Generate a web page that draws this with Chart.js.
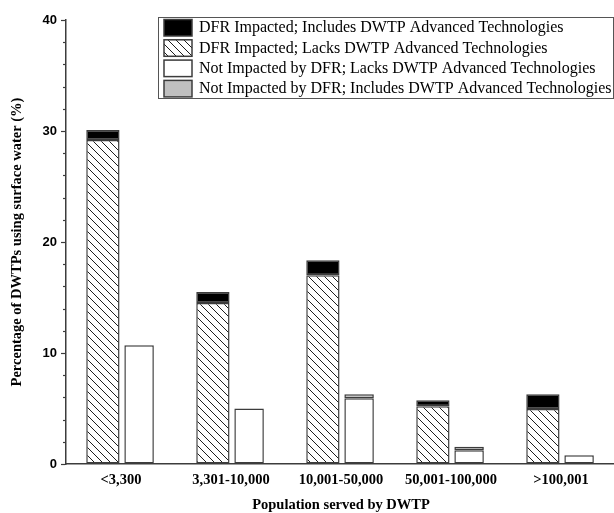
<!DOCTYPE html>
<html>
<head>
<meta charset="utf-8">
<script src="https://cdn.jsdelivr.net/npm/chart.js@4/dist/chart.umd.min.js"></script>
<style>
  html, body { margin: 0; padding: 0; background: #fff; overflow: hidden; }
  #wrap { width: 620px; height: 513px; position: relative; }
</style>
</head>
<body>
<div id="wrap"><canvas id="c" width="620" height="513"></canvas></div>
<script>
// Population size classes of drinking water treatment plants
const categories = ['<3,300', '3,301-10,000', '10,001-50,000', '50,001-100,000', '>100,001'];

// Percentage of DWTPs using surface water, per group
const dfrLacksAdvanced     = [29.2, 14.5, 17.0, 5.2, 4.95];
const dfrIncludesAdvanced  = [0.9, 1.0, 1.35, 0.55, 1.33];
const notDfrLacksAdvanced  = [10.7, 5.0, 5.92, 1.25, 0.78];
const notDfrIncludesAdvanced = [0.0, 0.0, 0.36, 0.3, 0.0];

const yTickMax = 40;
const yTickStep = 2;
const yLabelStep = 10;

const SERIF = '"Liberation Serif", "Times New Roman", serif';
const SANS = '"Liberation Sans", Arial, sans-serif';
const EDGE = '#3c3c3c';

// diagonal hatch fill
function makeHatch() {
  const t = document.createElement('canvas');
  t.width = 8; t.height = 8;
  const g = t.getContext('2d');
  g.fillStyle = '#fff';
  g.fillRect(0, 0, 8, 8);
  g.strokeStyle = '#1e1e1e';
  g.lineWidth = 1;
  g.beginPath();
  g.moveTo(-1, -1); g.lineTo(9, 9);
  g.moveTo(-1, 7); g.lineTo(1, 9);
  g.moveTo(7, -1); g.lineTo(9, 1);
  g.stroke();
  return document.getElementById('c').getContext('2d').createPattern(t, 'repeat');
}
const hatch = makeHatch();

const datasets = [
  { label: 'DFR Impacted; Lacks DWTP Advanced Technologies', data: dfrLacksAdvanced,
    backgroundColor: hatch, stack: 'dfr', barPercentage: 0.92 },
  { label: 'DFR Impacted; Includes DWTP Advanced Technologies', data: dfrIncludesAdvanced,
    backgroundColor: '#000000', stack: 'dfr', barPercentage: 0.92 },
  { label: 'Not Impacted by DFR; Lacks DWTP Advanced Technologies', data: notDfrLacksAdvanced,
    backgroundColor: '#ffffff', stack: 'not', barPercentage: 0.815 },
  { label: 'Not Impacted by DFR; Includes DWTP Advanced Technologies', data: notDfrIncludesAdvanced,
    backgroundColor: '#c0c0c0', stack: 'not', barPercentage: 0.815 }
].map(d => Object.assign(d, {
  borderColor: EDGE, borderWidth: 1.5, borderSkipped: false, categoryPercentage: 0.658
}));

// legend box listing the series (order as shown in the box)
const legendOrder = [1, 0, 2, 3];
const boxLegend = {
  id: 'boxLegend',
  afterDraw(chart) {
    const ctx = chart.ctx;
    const x0 = 158.5, y0 = 17.5, w = 455, h = 81;
    ctx.save();
    ctx.fillStyle = '#fff';
    ctx.fillRect(x0, y0, w, h);
    ctx.strokeStyle = '#555';
    ctx.lineWidth = 1;
    ctx.strokeRect(x0, y0, w, h);
    ctx.font = '16px ' + SERIF;
    ctx.textBaseline = 'middle';
    ctx.textAlign = 'left';
    legendOrder.forEach((di, row) => {
      const ds = chart.data.datasets[di];
      const sy = 19.5 + row * 20.3;
      ctx.fillStyle = ds.backgroundColor;
      ctx.fillRect(164, sy, 28, 16.5);
      ctx.strokeStyle = EDGE;
      ctx.lineWidth = 1.5;
      ctx.strokeRect(164, sy, 28, 16.5);
      ctx.fillStyle = '#000';
      ctx.fillText(ds.label, 199, sy + 8.5);
    });
    ctx.restore();
  }
};

// short minor ticks on the value axis
const minorTicks = {
  id: 'minorTicks',
  afterDraw(chart) {
    const y = chart.scales.y;
    const ctx = chart.ctx;
    ctx.save();
    ctx.strokeStyle = EDGE;
    ctx.lineWidth = 1.2;
    y.ticks.forEach(t => {
      if (t.value % yLabelStep === 0) return;
      const py = Math.round(y.getPixelForValue(t.value)) + 0.5;
      ctx.beginPath();
      ctx.moveTo(y.right - 3, py);
      ctx.lineTo(y.right, py);
      ctx.stroke();
    });
    ctx.restore();
  }
};

new Chart(document.getElementById('c'), {
  type: 'bar',
  data: { labels: categories, datasets },
  plugins: [minorTicks, boxLegend],
  options: {
    responsive: false,
    animation: false,
    layout: { padding: { top: 20, right: 4, bottom: 0, left: 0 } },
    plugins: { legend: { display: false }, tooltip: { enabled: false } },
    scales: {
      x: {
        stacked: true,
        grid: { display: false, drawTicks: false },
        border: { display: true, color: EDGE, width: 1.5 },
        ticks: { color: '#000', padding: 8, font: { family: SERIF, size: 14.5, weight: 'bold' } },
        title: { display: true, text: 'Population served by DWTP', color: '#000',
                 padding: { top: 0, bottom: -1 }, font: { family: SERIF, size: 14.5, weight: 'bold' } },
        afterFit(s) { s.height = 49; }
      },
      y: {
        stacked: true,
        min: 0, max: yTickMax,
        grid: { display: true, drawOnChartArea: false, drawTicks: true, tickLength: 5,
                tickColor: c => (c.tick && c.tick.value % yLabelStep === 0) ? EDGE : 'rgba(0,0,0,0)',
                tickWidth: 1.2 },
        border: { display: true, color: EDGE, width: 1.5 },
        ticks: {
          stepSize: yTickStep, padding: 4, color: '#000', autoSkip: false,
          font: { family: SANS, size: 13, weight: 'bold' },
          callback: v => (v % yLabelStep === 0 ? String(v) : '')
        },
        title: { display: true, text: 'Percentage of DWTPs using surface water (%)', color: '#000',
                 padding: { top: 9, bottom: 0 }, font: { family: SERIF, size: 14.5, weight: 'bold' } },
        afterFit(s) { s.width = 66; }
      }
    }
  }
});
</script>
</body>
</html>
